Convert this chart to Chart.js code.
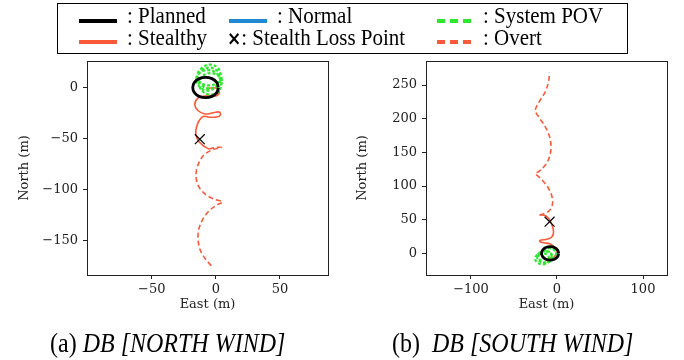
<!DOCTYPE html>
<html>
<head>
<meta charset="utf-8">
<script src="https://cdn.jsdelivr.net/npm/chart.js@4.4.0/dist/chart.umd.min.js"></script>
<style>
  html, body { margin: 0; padding: 0; background: #fff; }
  #wrap { position: relative; width: 684px; height: 360px; overflow: hidden; font-family: "Liberation Serif", serif; }
  canvas { position: absolute; left: 0; top: 0; }
  #legend { position: absolute; left: 57px; top: 3px; width: 571px; height: 51px; border: 1px solid #000; box-sizing: border-box; }
  .item { position: absolute; font-size: 21px; line-height: 22px; white-space: nowrap; color: #000; transform: scaleY(1.12); transform-origin: 0 19px; }
  .sw { position: absolute; width: 38px; height: 4px; }
  .mk { font-family: "DejaVu Sans", sans-serif; font-size: 17px; font-weight: bold; }
  .cap { position: absolute; top: 330px; font-size: 24px; line-height: 28px; white-space: nowrap; transform: scaleY(1.12); transform-origin: 0 23px; }
  .cap i { font-style: italic; }
</style>
</head>
<body>
<div id="wrap">
  <canvas id="chartA" width="684" height="360"></canvas>
  <canvas id="chartB" width="684" height="360"></canvas>
  <div id="legend">
    <div class="sw" style="left:21px;top:15px;background:#000"></div>
    <div class="item" style="left:69px;top:1px">: Planned</div>
    <div class="sw" style="left:171px;top:15px;background:#1f88d0"></div>
    <div class="item" style="left:219px;top:1px">: Normal</div>
    <div class="sw" style="left:379px;top:15px;background:repeating-linear-gradient(90deg,#2ee82e 0 8px,transparent 8px 13px)"></div>
    <div class="item" style="left:425px;top:1px">: System POV</div>
    <div class="sw" style="left:21px;top:36px;background:#fa5a3a"></div>
    <div class="item" style="left:69px;top:23px">: Stealthy</div>
    <div class="item" style="left:169px;top:23px"><span class="mk">&times;</span>: Stealth Loss Point</div>
    <div class="sw" style="left:379px;top:36px;background:repeating-linear-gradient(90deg,#fa5a3a 0 8px,transparent 8px 13px)"></div>
    <div class="item" style="left:425px;top:23px">: Overt</div>
  </div>
  <div class="cap" style="left:50px">(a) <i>DB [NORTH WIND]</i></div>
  <div class="cap" style="left:392px">(b)&nbsp; <i>DB [SOUTH WIND]</i></div>
</div>
<script>
// tick positions
const leftXTicks = [-50, 0, 50];
const leftYTicks = [-150, -100, -50, 0];
const rightXTicks = [-100, 0, 100];
const rightYTicks = [0, 50, 100, 150, 200, 250];

// planned loiter circle (east, north)
const planned = [[2,0],[0.7,5],[-3,8.7],[-8,10],[-13,8.7],[-16.7,5],[-18,0],[-16.7,-5],[-13,-8.7],[-8,-10],[-3,-8.7],[0.7,-5],[2,0]];

// (a) north wind
const leftPov = [[4,12],[1.5,19.5],[-5,22.5],[-11,19],[-14.5,12],[-12,5],[-5,2],[2,5],
  [3.5,7.5],[0.5,14],[-6,17],[-12.5,14.5],[-15.5,7],[-12,0],[-6,-3],[0.5,0.5],
  [5,4.5],[2.5,11],[-4,14],[-10,11.5],[-13,4],[-10.5,-3.5],[-4,-7],[2.5,-3],
  [4.5,9],[1,16.5],[-5,19.5],[-11.5,16],[-14,9],[-11,2],[-5,-1],[1.5,2.5],[4,8]];
const leftStealthy = [[-7,-1],[0,-0.5],[2.8,-4.5],[0,-8.3],[-8,-8.3],[-14,-10.5],[-16.4,-17],[-14,-22.6],
  [-8.6,-26],[-2,-24.8],[2.6,-24],[3.6,-26.8],[0.5,-29],[-6,-29],[-10,-28.4],[-13,-32.4],
  [-15.1,-39],[-15.6,-45.5],[-13.8,-52],[-9.9,-57],[-5.2,-60.5]];
const leftOvert = [[-5.2,-60.5],[-1,-59],[4.4,-58.8],[-2.1,-60.8],[-8.6,-65.4],[-12.5,-72],[-15.1,-81],
  [-15.1,-91],[-12.5,-99],[-7.3,-105.6],[-0.8,-109.8],[5.2,-112.2],[0.5,-115.4],[-6,-122],
  [-11.2,-131.8],[-13.8,-143],[-13,-156.3],[-9.4,-166],[-3.4,-175.2]];
const leftLoss = [[-12.5,-50.7]];

// (b) south wind
const rightPov = [[-9,-8],[-11,-2.5],[-17,0],[-23,-2.5],[-25.5,-8],[-22.5,-14],[-17,-16.5],[-11,-14],
  [-5,-5.5],[-7.5,0.5],[-13,3],[-19,0.5],[-21.5,-5],[-18.5,-11],[-13,-13.5],[-7,-11],
  [-1,-1],[-3.5,5],[-9,7.5],[-15,5],[-17.5,-1],[-14.5,-7],[-9,-9.5],[-3,-7],
  [-6,-4],[-9,2],[-15,3.5],[-21,0],[-23,-6],[-20,-12],[-14,-14],[-8,-11],[-6,-4]];
const rightStealthy = [[-9.8,-7.4],[-4,-6],[-0.8,0],[-2,7.4],[-7.8,13.8],[-15.6,15.8],[-20.2,17.8],
  [-18.6,19.8],[-11.6,20.8],[-5.8,24.7],[-4,32],[-5.8,42],[-9.8,52],[-14.8,56.5],[-20.2,56.9]];
const rightOvert = [[-20.2,56.9],[-14,59.5],[-8.5,64],[-5.3,73],[-5.8,84],[-9.8,96.6],[-15.6,106.4],
  [-21.4,114],[-25.2,118.5],[-21.4,121.2],[-13.6,131.2],[-8.6,143.5],[-7,158.4],[-8.6,173.3],
  [-13.6,188],[-21.4,203],[-25.2,212.5],[-19.4,227.8],[-13.6,240],[-9.8,255],[-8.6,268.4]];
const rightLoss = [[-8.6,47]];

const RED = '#fa5a3a';
const GREEN = '#2ee82e';
const tickFont = { family: 'DejaVu Serif', size: 13 };

const xy = arr => arr.map(p => ({ x: p[0], y: p[1] }));

// box around plot area
const frame = {
  id: 'frame',
  afterDraw(chart) {
    const { ctx, chartArea: a } = chart;
    ctx.save();
    ctx.strokeStyle = '#222';
    ctx.lineWidth = 1;
    ctx.strokeRect(Math.round(a.left) + 0.5, Math.round(a.top) + 0.5, Math.round(a.right - a.left), Math.round(a.bottom - a.top));
    ctx.restore();
  }
};

function makeDatasets(loss, pov, stealthy, overt) {
  return [
    { data: xy(loss), showLine: false, pointStyle: 'crossRot', pointRadius: 7, borderColor: '#000', borderWidth: 1.2 },
    { data: xy(planned), showLine: true, borderColor: '#000', borderWidth: 2.8, pointRadius: 0, tension: 0.4 },
    { data: xy(pov), showLine: true, borderColor: GREEN, borderWidth: 2.2, borderDash: [3, 2], pointRadius: 0, tension: 0.4 },
    { data: xy(stealthy), showLine: true, borderColor: RED, borderWidth: 1.6, pointRadius: 0, tension: 0.4 },
    { data: xy(overt), showLine: true, borderColor: RED, borderWidth: 1.6, borderDash: [5, 3], pointRadius: 0, tension: 0.35 }
  ];
}

function makeOptions(p) {
  const minus = v => String(v).replace('-', '\u2212');
  return {
    responsive: false,
    animation: false,
    layout: { padding: p.pad },
    plugins: { legend: { display: false }, tooltip: { enabled: false } },
    scales: {
      x: {
        type: 'linear', min: p.xMin, max: p.xMax,
        afterBuildTicks: s => { s.ticks = p.xTicks.map(v => ({ value: v })); },
        afterFit: s => { s.height = 37; },
        grid: { drawOnChartArea: false, tickLength: 4, color: '#222' },
        border: { display: false },
        ticks: { font: tickFont, color: '#222', padding: 3, maxRotation: 0, callback: minus },
        title: { display: true, text: 'East (m)', font: tickFont, color: '#222', padding: { top: 0, bottom: 0 } }
      },
      y: {
        type: 'linear', min: p.yMin, max: p.yMax,
        afterBuildTicks: s => { s.ticks = p.yTicks.map(v => ({ value: v })); },
        afterFit: s => { s.width = p.yWidth; },
        grid: { drawOnChartArea: false, tickLength: 4, color: '#222' },
        border: { display: false },
        ticks: { font: tickFont, color: '#222', padding: 5, callback: minus },
        title: { display: true, text: 'North (m)', font: tickFont, color: '#222', padding: { top: p.titlePad, bottom: 0 } }
      }
    }
  };
}

new Chart(document.getElementById('chartA'), {
  type: 'scatter',
  data: { datasets: makeDatasets(leftLoss, leftPov, leftStealthy, leftOvert) },
  options: makeOptions({
    pad: { left: 0, right: 356, top: 61, bottom: 48 }, yWidth: 87, titlePad: 17,
    xMin: -100.5, xMax: 87.5, yMin: -184, yMax: 26, xTicks: leftXTicks, yTicks: leftYTicks
  }),
  plugins: [frame]
});

new Chart(document.getElementById('chartB'), {
  type: 'scatter',
  data: { datasets: makeDatasets(rightLoss, rightPov, rightStealthy, rightOvert) },
  options: makeOptions({
    pad: { left: 340, right: 17, top: 61, bottom: 48 }, yWidth: 86, titlePad: 15,
    xMin: -152.3, xMax: 127.9, yMin: -32.2, yMax: 285.7, xTicks: rightXTicks, yTicks: rightYTicks
  }),
  plugins: [frame]
});
</script>
</body>
</html>
